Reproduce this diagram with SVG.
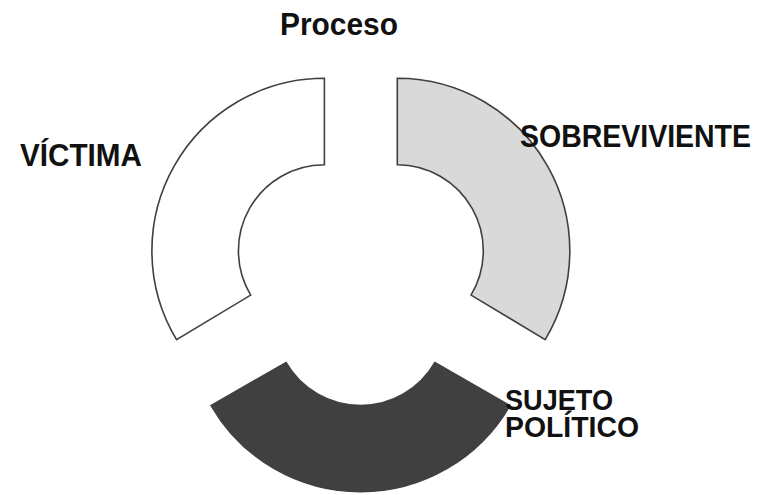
<svg xmlns="http://www.w3.org/2000/svg" width="772" height="495" viewBox="0 0 772 495">
<style>
.seg{stroke:#404040;stroke-width:1.6;stroke-linejoin:miter}
.lbl{font-family:"Liberation Sans",Arial,sans-serif;font-weight:bold;font-size:31px;fill:#111}
.sm{font-size:29px}
</style>
<rect width="772" height="495" fill="#fff"/>
<g id="victima">
<path class="seg" fill="#ffffff" d="M324.4,78.3 A172.5,172.5 0 0 0 176.5,339.6 L250.7,295.1 A86,86 0 0 1 324.4,164.8 Z"/>
</g>
<g id="sobreviviente">
<path class="seg" fill="#d9d9d9" d="M397.3,78.3 A172.5,172.5 0 0 1 545.2,339.6 L471,295.1 A86,86 0 0 0 397.3,164.8 Z"/>
</g>
<g id="sujeto">
<path class="seg" fill="#404040" d="M211.1,405.5 A172.5,172.5 0 0 0 509.9,405.5 L435,362.5 A86,86 0 0 1 286,362.5 Z"/>
</g>
<g id="connectors"></g>
<g id="labels">
<text class="lbl" x="280" y="35" textLength="118" lengthAdjust="spacingAndGlyphs">Proceso</text>
<text class="lbl" x="20" y="166" textLength="122" lengthAdjust="spacingAndGlyphs">VÍCTIMA</text>
<text class="lbl" x="520" y="146.5" textLength="231" lengthAdjust="spacingAndGlyphs">SOBREVIVIENTE</text>
<text class="lbl sm"><tspan x="505" y="409.5" textLength="108" lengthAdjust="spacingAndGlyphs">SUJETO</tspan><tspan x="505" y="437" textLength="134" lengthAdjust="spacingAndGlyphs">POLÍTICO</tspan></text>
</g>
</svg>
